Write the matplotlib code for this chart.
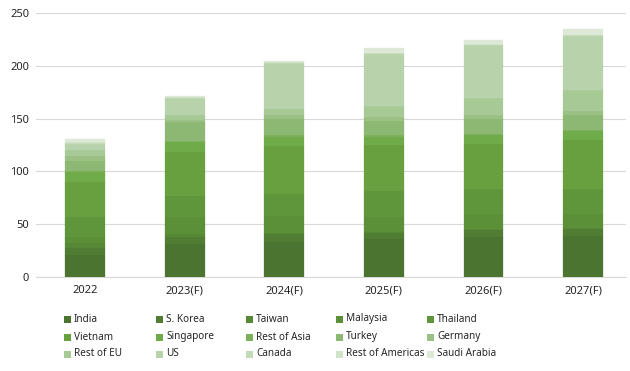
import matplotlib
matplotlib.use("Agg")
import matplotlib.pyplot as plt
from matplotlib.patches import Rectangle
import numpy as np

plt.rcParams['font.family'] = ['Noto Sans', 'DejaVu Sans']

years = ["2022", "2023(F)", "2024(F)", "2025(F)", "2026(F)", "2027(F)"]
series_names = ["India", "S. Korea", "Taiwan", "Malaysia", "Thailand",
                "Vietnam", "Singapore", "Rest of Asia", "Turkey", "Germany",
                "Rest of EU", "US", "Canada", "Rest of Americas", "Saudi Arabia"]

india       = [21, 31, 33, 36, 38, 39]
s_korea     = [6, 7, 7.5, 6, 6.4, 6]
taiwan      = [5, 2.5, 1, 1, 1, 1]
malaysia    = [6, 16.5, 16.5, 14, 14, 14]
thailand    = [19, 19.7, 20.6, 24, 23.7, 23]
vietnam     = [33, 41.3, 45, 44, 43, 47]
singapore   = [9.5, 9.7, 9.4, 8, 8.7, 8.5]
rest_asia   = [1, 1, 1, 1, 1, 1]
turkey      = [9.5, 17.7, 16, 14, 14, 13.5]
germany     = [5, 2, 3, 3.5, 4, 4.5]
rest_eu     = [5, 5, 6.4, 10, 15.3, 20]
us          = [6, 16, 43.4, 50, 50.3, 51]
canada      = [1, 0.5, 0.3, 0.3, 0.5, 0.5]
rest_americas = [1, 0.5, 0.3, 0.3, 0.5, 0.5]
saudi       = [3, 1, 1.5, 4.5, 4.5, 5.5]

series = [india, s_korea, taiwan, malaysia, thailand, vietnam, singapore,
          rest_asia, turkey, germany, rest_eu, us, canada, rest_americas, saudi]

colors = ["#4a7430", "#507d33", "#568836", "#5b9039", "#5f963c",
          "#68a040", "#70ab4a", "#7cb05a", "#8db873", "#9bc084",
          "#a7c996", "#b8d3ac", "#c4dbb8", "#d0e3c7", "#dde9d6"]

W, H = 630, 371
fig = plt.figure(figsize=(W / 100, H / 100), dpi=100)
ax = fig.add_axes([36 / W, 94 / H, (626 - 36) / W, 264 / H])

x = np.arange(len(years))
bottom = np.zeros(len(years))
for name, vals, c in zip(series_names, series, colors):
    vals = np.array(vals, dtype=float)
    ax.bar(x, vals, width=0.4, bottom=bottom, color=c, label=name,
           edgecolor=c, linewidth=0.2, zorder=3)
    bottom += vals

ax.set_xlim(-0.492, 5.43)
ax.set_ylim(0, 250)
ax.set_yticks([0, 50, 100, 150, 200, 250])
ax.yaxis.grid(True, color='#d9d9d9', linewidth=0.8, zorder=0)
ax.set_axisbelow(True)
for s in ['top', 'right', 'left']:
    ax.spines[s].set_visible(False)
ax.spines['bottom'].set_color('#d9d9d9')
ax.spines['bottom'].set_linewidth(0.8)
ax.tick_params(axis='both', length=0, labelsize=8, colors='#262626')
ax.tick_params(axis='y', pad=5)
ax.tick_params(axis='x', pad=6)
ax.set_xticks(x)
ax.set_xticklabels(years)

# legend laid out in a fixed 5-column grid (row-major order)
col_x = [64, 156, 246, 336, 427]
row_y = [319, 337, 354]
for i, (name, c) in enumerate(zip(series_names, colors)):
    r, k = divmod(i, 5)
    px, py = col_x[k], row_y[r]
    fig.patches.append(Rectangle((px / W, (H - py - 3.5) / H), 7 / W, 7 / H,
                                 transform=fig.transFigure, facecolor=c,
                                 edgecolor='none'))
    fig.text((px + 10) / W, (H - py) / H, name, fontsize=7.2,
             color='#262626', va='center', ha='left')

fig.savefig("out.png", dpi=100)
